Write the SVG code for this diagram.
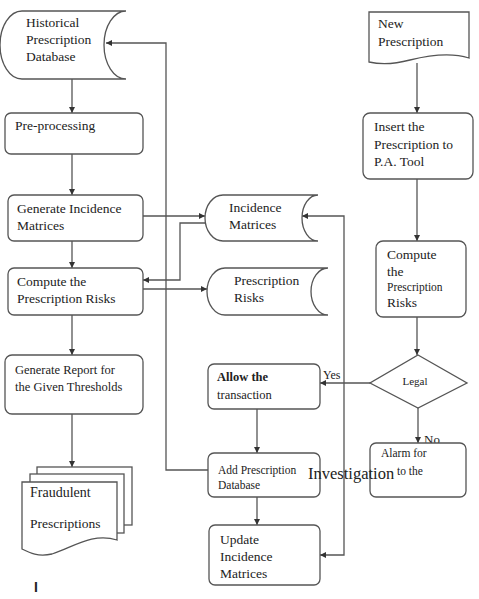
<svg xmlns="http://www.w3.org/2000/svg" width="479" height="599" viewBox="0 0 479 599">
<defs>
<marker id="ah" viewBox="0 0 10 10" refX="10" refY="5" markerWidth="6" markerHeight="6" orient="auto-start-reverse" markerUnits="userSpaceOnUse">
<path d="M0,0 L10,5 L0,10 Z" fill="#333"/>
</marker>
<style>
.s{fill:#fff;stroke:#555;stroke-width:1.3}
.c{fill:none;stroke:#555;stroke-width:1.3}
.t{font-family:"Liberation Serif","Times New Roman",serif;fill:#222}
</style>
</defs>
<rect width="479" height="599" fill="#fff"/>
<g class="t" font-size="13.5">
<g id="connectors">
<path class="c" d="M72,79 V113" marker-end="url(#ah)"/>
<path class="c" d="M72,154 V195" marker-end="url(#ah)"/>
<path class="c" d="M72,241 V268" marker-end="url(#ah)"/>
<path class="c" d="M72,315 V355" marker-end="url(#ah)"/>
<path class="c" d="M72,414 V467" marker-end="url(#ah)"/>
<path class="c" d="M143,216 H205" marker-end="url(#ah)"/>
<path class="c" d="M206,223 H180 V280 H143" marker-end="url(#ah)"/>
<path class="c" d="M143,289 H207" marker-end="url(#ah)"/>
<path class="c" d="M208,470 H166 V43 H106" marker-end="url(#ah)"/>
<path class="c" d="M320,555 H344 V216 H302" marker-start="url(#ah)" marker-end="url(#ah)"/>
<path class="c" d="M417,63 V113" marker-end="url(#ah)"/>
<path class="c" d="M417,179 V241" marker-end="url(#ah)"/>
<path class="c" d="M417,317 V355" marker-end="url(#ah)"/>
<path class="c" d="M370,383 H320" marker-end="url(#ah)"/>
<path class="c" d="M418,408 V443" marker-end="url(#ah)"/>
<path class="c" d="M257,409 V453" marker-end="url(#ah)"/>
<path class="c" d="M257,497 V525" marker-end="url(#ah)"/>
<text x="323" y="379" font-size="12">Yes</text>
<text x="424" y="444" font-size="13">No</text>
</g>
<g id="historical">
<path class="s" d="M22,11 H126 A22,34 0 0 0 126,79 H22 A22,34 0 0 1 22,11 Z"/>
<text x="26" y="27">Historical</text>
<text x="26" y="44">Prescription</text>
<text x="26" y="61">Database</text>
</g>
<g id="preprocessing">
<rect class="s" x="5" y="113" width="138" height="41" rx="6"/>
<text x="15" y="130">Pre-processing</text>
</g>
<g id="generate">
<rect class="s" x="8" y="195" width="135" height="46" rx="6"/>
<text x="17" y="213">Generate Incidence</text>
<text x="17" y="230">Matrices</text>
</g>
<g id="compute-left">
<rect class="s" x="8" y="268" width="135" height="47" rx="6"/>
<text x="17" y="286">Compute the</text>
<text x="17" y="303">Prescription Risks</text>
</g>
<g id="incidence">
<path class="s" d="M223,195 H318 A16,23 0 0 0 318,241 H223 A18,23 0 0 1 223,195 Z"/>
<text x="229" y="212">Incidence</text>
<text x="229" y="229">Matrices</text>
</g>
<g id="risks">
<path class="s" d="M225,268 H328 A17,23.5 0 0 0 328,315 H225 A18,23.5 0 0 1 225,268 Z"/>
<text x="234" y="285">Prescription</text>
<text x="234" y="302">Risks</text>
</g>
<g id="report">
<rect class="s" x="5" y="355" width="138" height="59" rx="7"/>
<text x="15" y="374" font-size="12.5">Generate Report  for</text>
<text x="15" y="391" font-size="12.5">the Given  Thresholds</text>
</g>
<g id="fraudulent">
<rect class="s" x="37" y="467" width="95" height="58"/>
<rect class="s" x="30" y="474" width="94" height="59"/>
<path class="s" d="M22,482 H117 V540 C92,532 72,548 52,554 C38,557 30,553 22,549 Z"/>
<text x="30" y="497" font-size="14">Fraudulent</text>
<text x="30" y="528">Prescriptions</text>
</g>
<text x="34" y="592" font-size="14" font-weight="bold" style="font-family:'Liberation Sans',Arial,sans-serif">I</text>
<g id="new-prescription">
<path class="s" d="M369,12 H469 V58 C450,52 430,55 410,60 C395,64 382,65 369,62 Z"/>
<text x="378" y="28">New</text>
<text x="378" y="46">Prescription</text>
</g>
<g id="insert">
<rect class="s" x="363" y="113" width="110" height="66" rx="7"/>
<text x="374" y="131">Insert the</text>
<text x="374" y="149">Prescription to</text>
<text x="374" y="166">P.A. Tool</text>
</g>
<g id="compute-right">
<rect class="s" x="376" y="241" width="90" height="76" rx="7"/>
<text x="387" y="259">Compute</text>
<text x="387" y="276">the</text>
<text x="387" y="291" font-size="11.5">Prescription</text>
<text x="387" y="307">Risks</text>
</g>
<g id="legal">
<path class="s" d="M418,355 L467,383 L418,408 L370,383 Z"/>
<text x="415" y="385" font-size="11" text-anchor="middle">Legal</text>
</g>
<g id="allow">
<rect class="s" x="208" y="364" width="112" height="45" rx="6"/>
<text x="217" y="381" font-weight="bold" font-size="12.5">Allow the</text>
<text x="217" y="399" font-size="12.5">transaction</text>
</g>
<g id="add">
<rect class="s" x="208" y="453" width="112" height="44" rx="6"/>
<text x="218" y="474" font-size="11.5">Add Prescription</text>
<text x="218" y="489" font-size="11.5">Database</text>
</g>
<g id="alarm">
<rect class="s" x="370" y="443" width="96" height="54" rx="6"/>
<text x="381" y="457" font-size="11.5">Alarm  for</text>
<text x="397" y="475" font-size="11.5">to the</text>
</g>
<text x="308" y="479" font-size="16.5">Investigation</text>
<g id="update">
<rect class="s" x="209" y="525" width="111" height="60" rx="6"/>
<text x="220" y="544">Update</text>
<text x="220" y="561">Incidence</text>
<text x="220" y="578">Matrices</text>
</g>
</g>
</svg>
